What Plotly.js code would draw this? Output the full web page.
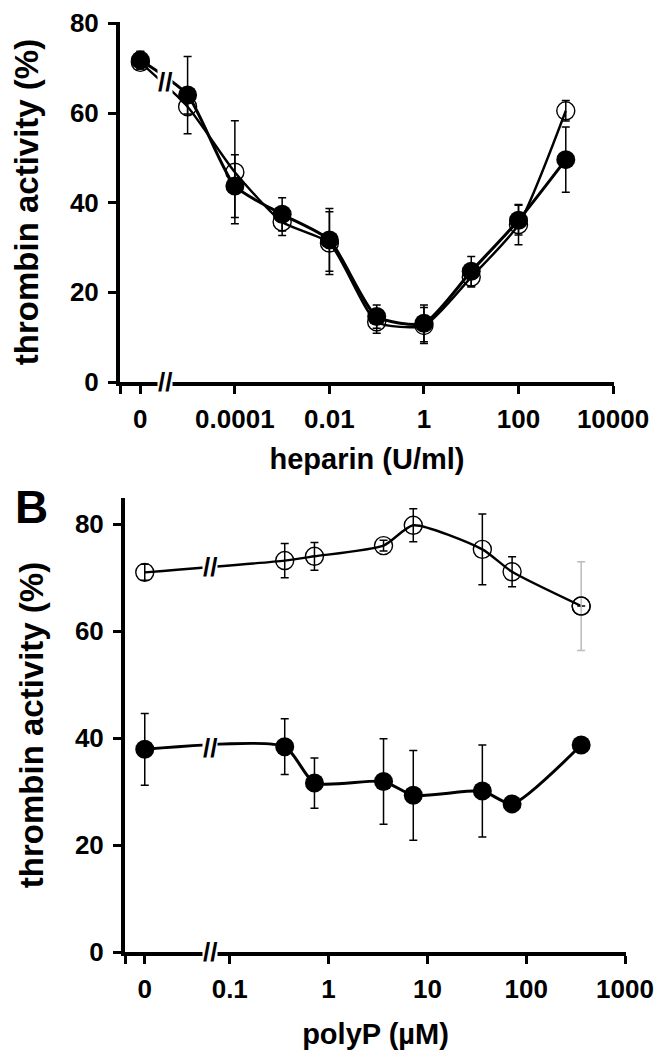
<!DOCTYPE html>
<html>
<head>
<meta charset="utf-8">
<script src="https://cdn.plot.ly/plotly-3.0.1.min.js"></script>
<style>
  body { margin: 0; background: #fff; }
  #chart { width: 664px; height: 1050px; }
</style>
</head>
<body>
<div id="chart"></div>
<script>
// panel A: heparin (U/ml), 0 is drawn left of the axis break
var heparin = [0, 0.00001, 0.0001, 0.001, 0.01, 0.1, 1, 10, 100, 1000];
var hepOpen = [71.3, 61.4, 46.8, 35.7, 31.0, 13.4, 12.6, 23.4, 35.1, 60.5];
var hepOpenErr = [1.5, 1.6, 11.5, 3.0, 7.0, 2.5, 4.0, 2.2, 4.5, 2.3];
var hepFilled = [71.8, 64.0, 43.7, 37.4, 31.7, 14.6, 13.1, 24.7, 36.1, 49.6];
var hepFilledErr = [2.0, 8.6, 7.0, 3.7, 7.0, 2.6, 4.1, 3.3, 3.3, 7.3];
var hepTicks = [0, 0.0001, 0.01, 1, 100, 10000];
var hepTickText = ["0", "0.0001", "0.01", "1", "100", "10000"];

// panel B: polyP (µM)
var polyP = [0, 0.36, 0.72, 3.6, 7.2, 36, 72, 360];
var polyOpen = [71.0, 73.2, 74.0, 76.0, 79.8, 75.3, 71.1, 64.7];
var polyOpenErr = [1.5, 3.2, 2.6, 1.0, 3.1, 6.6, 2.8, 8.3];
var polyFilled = [37.9, 38.4, 31.6, 31.9, 29.3, 30.1, 27.7, 38.7];
var polyFilledErr = [6.7, 5.2, 4.7, 8.0, 8.4, 8.6, 0.8, 0.8];
var polyTicks = [0, 0.1, 1, 10, 100, 1000];
var polyTickText = ["0", "0.1", "1", "10", "100", "1000"];

var yTicks = [0, 20, 40, 60, 80];

// log position, zero sits at a fixed spot before the break
function toPos(zeroAt) {
  return function (c) { return c === 0 ? zeroAt : Math.log10(c); };
}
var hepPos = toPos(-6);
var polyPos = toPos(-1.86);

var fam = "Liberation Sans, Arial, sans-serif";
var tickFont = {family: fam, size: 26, weight: 700, color: "#000"};
var titleFont = {family: fam, size: 29, weight: 700, color: "#000"};
var yTitleFont = {family: fam, size: 33, weight: 700, color: "#000"};

function series(xs, ys, errs, filled, xa, ya) {
  return {
    x: xs, y: ys, xaxis: xa, yaxis: ya,
    type: "scatter", mode: "lines+markers",
    line: {color: "#000", width: filled ? 3 : 2.4, shape: "spline", smoothing: 0.6},
    marker: filled
      ? {symbol: "circle", size: 19, color: "#000"}
      : {symbol: "circle-open", size: 18, color: "#000", line: {width: 1.4, color: "#000"}},
    error_y: {type: "data", array: errs, visible: true, color: "#000", thickness: 1.5, width: 4},
    showlegend: false, hoverinfo: "skip"
  };
}

var hx = heparin.map(hepPos);
var px = polyP.map(polyPos);

// last open point in B has a grey error bar, drawn as its own trace
var polyOpenErrMain = polyOpenErr.slice(0, -1).concat([null]);

var data = [
  series(hx, hepOpen, hepOpenErr, false, "x", "y"),
  series(hx, hepFilled, hepFilledErr, true, "x", "y"),
  series(px, polyOpen, polyOpenErrMain, false, "x2", "y2"),
  {
    x: px.slice(-1), y: polyOpen.slice(-1), xaxis: "x2", yaxis: "y2",
    type: "scatter", mode: "markers",
    marker: {symbol: "circle-open", size: 18, color: "#000", line: {width: 1.4, color: "#000"}},
    error_y: {type: "data", array: polyOpenErr.slice(-1), visible: true, color: "#bbb", thickness: 1.5, width: 4},
    showlegend: false, hoverinfo: "skip"
  },
  series(px, polyFilled, polyFilledErr, true, "x2", "y2")
];

function xAxis(domain, range, ticks, text, title, pos, anchor, standoff) {
  // extra blank tick at the corner, the y axis pokes below the x axis there
  return {
    domain: domain, range: range, anchor: anchor,
    tickmode: "array", tickvals: [range[0]].concat(ticks.map(pos)), ticktext: [""].concat(text),
    ticks: "outside", ticklen: 8, tickwidth: 3, tickcolor: "#000",
    showline: true, linewidth: 4, linecolor: "#000",
    showgrid: false, zeroline: false, automargin: false,
    tickfont: tickFont, ticklabelstandoff: 3,
    title: {text: title, font: titleFont, standoff: standoff}
  };
}
function yAxis(domain, range, anchor) {
  return {
    domain: domain, range: range, anchor: anchor,
    tickmode: "array", tickvals: yTicks,
    ticks: "outside", ticklen: 8, tickwidth: 3, tickcolor: "#000",
    showline: true, linewidth: 4, linecolor: "#000",
    showgrid: false, zeroline: false, automargin: false,
    tickfont: tickFont, ticklabelstandoff: 4,
    title: {text: "thrombin activity (%)", font: yTitleFont, standoff: 22}
  };
}

// break marks: white-backed "//" cutting the lines and the x axis
function lerp(xs, ys, xb) {
  var t = (xb - xs[0]) / (xs[1] - xs[0]);
  return ys[0] + t * (ys[1] - ys[0]);
}
function breakMark(x, y, xref, yref) {
  return {
    x: x, y: y, xref: xref, yref: yref,
    text: "<b>//</b>", showarrow: false, bgcolor: "#fff", borderpad: 0,
    font: {family: fam, size: 26, color: "#000"}
  };
}

var hepBreak = -5.47;
var polyBreak = -1.2;

var layout = {
  width: 664, height: 1050,
  margin: {l: 0, r: 0, t: 0, b: 0},
  paper_bgcolor: "#fff", plot_bgcolor: "#fff",
  xaxis: xAxis([120 / 664, 614 / 664], [-6.43, 4.02], hepTicks, hepTickText, "heparin (U/ml)", hepPos, "y", 16),
  yaxis: yAxis([1 - 382 / 1050, 1 - 22 / 1050], [0, 80.3], "x"),
  xaxis2: xAxis([125 / 664, 626 / 664], [-2.06, 3.01], polyTicks, polyTickText, "polyP (µM)", polyPos, "y2", 26),
  yaxis2: yAxis([1 - 952 / 1050, 1 - 498 / 1050], [0, 84.9], "x2"),
  annotations: [
    // both panel A curves meet at the break, one mark covers them
    breakMark(hepBreak, (lerp(hx, hepOpen, hepBreak) + lerp(hx, hepFilled, hepBreak)) / 2, "x", "y"),
    breakMark(hepBreak, 0, "x", "y"),
    breakMark(polyBreak, lerp(px, polyOpen, polyBreak), "x2", "y2"),
    breakMark(polyBreak, lerp(px, polyFilled, polyBreak), "x2", "y2"),
    breakMark(polyBreak, 0, "x2", "y2"),
    {
      x: 13 / 664, y: 1 - 479 / 1050, xref: "paper", yref: "paper",
      xanchor: "left", yanchor: "top", showarrow: false,
      text: "<b>B</b>", font: {family: fam, size: 46, color: "#000"}
    }
  ]
};

Plotly.newPlot("chart", data, layout, {staticPlot: true});
</script>
</body>
</html>
